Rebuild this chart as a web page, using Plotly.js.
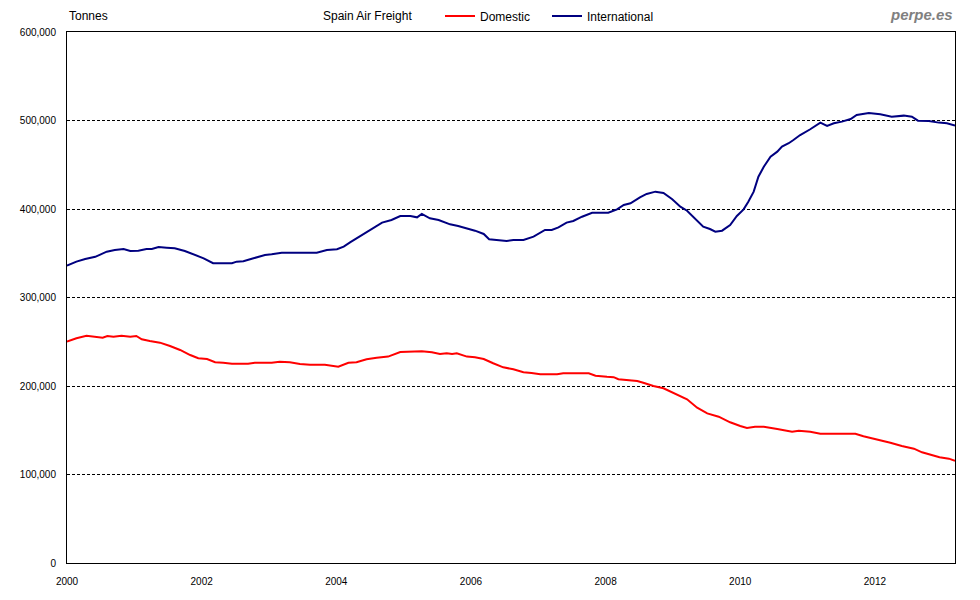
<!DOCTYPE html>
<html>
<head>
<meta charset="utf-8">
<script src="https://cdn.plot.ly/plotly-3.0.1.min.js"></script>
<style>html,body{margin:0;padding:0;background:#fff;}#chart{width:980px;height:600px;}</style>
</head>
<body>
<div id="chart"></div>
<script>
// Decimal-year positions and values (tonnes)
var domesticYears = [2000.00,2000.14,2000.29,2000.42,2000.53,2000.60,2000.69,2000.81,2000.94,2001.03,2001.11,2001.23,2001.38,2001.53,2001.68,2001.83,2001.95,2002.08,2002.20,2002.32,2002.45,2002.69,2002.79,2003.04,2003.16,2003.31,2003.46,2003.61,2003.83,2004.03,2004.18,2004.30,2004.45,2004.60,2004.77,2004.95,2005.12,2005.27,2005.42,2005.54,2005.64,2005.72,2005.79,2005.94,2006.06,2006.19,2006.33,2006.48,2006.63,2006.78,2006.90,2007.03,2007.28,2007.37,2007.75,2007.85,2008.02,2008.12,2008.19,2008.37,2008.47,2008.56,2008.71,2008.86,2009.01,2009.21,2009.36,2009.51,2009.68,2009.85,2010.00,2010.10,2010.22,2010.35,2010.55,2010.77,2010.87,2011.04,2011.19,2011.71,2011.83,2012.08,2012.23,2012.40,2012.58,2012.70,2012.82,2012.96,2013.10,2013.19];
var domesticValues = [250100,253900,256800,255700,254600,256500,255700,256800,255700,256500,252800,250900,249000,245200,240700,235000,231300,230500,226800,226300,225200,225200,226300,226300,227500,226800,224900,224100,224100,221800,226300,226800,230200,232000,233200,238400,238400,239200,238100,236200,237000,236200,237000,233200,232500,230500,225700,221100,218900,215500,214700,213200,213200,214400,214400,211700,210500,210000,207600,206000,205700,203700,200000,197400,192400,185000,175500,169100,165300,159000,154800,152600,154000,154000,151400,148400,149500,148400,146100,146100,143200,139000,135900,132200,129200,125100,122800,119400,117900,115600];

var internationalYears = [2000.00,2000.14,2000.27,2000.42,2000.59,2000.71,2000.84,2000.94,2001.06,2001.18,2001.26,2001.36,2001.48,2001.60,2001.75,2001.88,2002.03,2002.17,2002.45,2002.52,2002.62,2002.77,2002.94,2003.04,2003.19,2003.71,2003.86,2004.01,2004.11,2004.21,2004.35,2004.50,2004.68,2004.82,2004.95,2005.10,2005.20,2005.27,2005.39,2005.52,2005.69,2005.81,2005.94,2006.06,2006.19,2006.27,2006.38,2006.53,2006.63,2006.78,2006.93,2007.10,2007.20,2007.30,2007.42,2007.52,2007.65,2007.80,2008.04,2008.17,2008.27,2008.37,2008.51,2008.61,2008.74,2008.86,2008.99,2009.11,2009.21,2009.33,2009.45,2009.55,2009.63,2009.73,2009.85,2009.95,2010.05,2010.12,2010.20,2010.27,2010.35,2010.45,2010.55,2010.62,2010.72,2010.79,2010.89,2011.04,2011.19,2011.29,2011.39,2011.51,2011.64,2011.73,2011.91,2012.08,2012.25,2012.43,2012.55,2012.64,2012.80,2012.95,2013.07,2013.19];
var internationalValues = [336000,340500,343500,346000,351800,353700,354800,352600,352900,354800,354800,357000,356300,355600,352600,348800,344300,338700,338700,340500,340900,344300,348000,348800,350600,350600,353700,354500,357400,362500,369300,376300,384600,387600,392100,392100,390600,394400,389500,387600,382700,380800,378200,375500,371800,365800,365000,363900,365000,365000,368700,376300,376300,379300,384600,386500,391300,395800,395800,399600,404500,406500,413200,417000,419600,418100,411000,402600,398100,388700,380000,377400,374400,375500,381900,392100,399600,408300,419600,436500,447800,459100,464800,470500,474300,478000,483600,490100,497600,493800,496800,498700,501700,506200,508500,507000,504300,505500,504300,499800,499400,497600,496800,494200];

var xTickVals = [2000,2002,2004,2006,2008,2010,2012];
var yTickVals = [0,100000,200000,300000,400000,500000,600000];
var seriesNames = ['Domestic','International'];

var FONT = '"Liberation Sans", Arial, sans-serif';
var PLOT_L = 67, PLOT_W = 888, PLOT_T = 32, PLOT_H = 531;
function px(x) { return (x - PLOT_L) / PLOT_W; }
function py(y) { return (PLOT_T + PLOT_H - y) / PLOT_H; }

var traces = [
  {x: domesticYears, y: domesticValues, name: seriesNames[0], type: 'scatter', mode: 'lines',
   line: {color: '#FF0000', width: 2}},
  {x: internationalYears, y: internationalValues, name: seriesNames[1], type: 'scatter', mode: 'lines',
   line: {color: '#000080', width: 2}}
];

var layout = {
  width: 980, height: 600,
  margin: {l: 67, r: 25, t: 32, b: 37, autoexpand: false},
  paper_bgcolor: '#fff', plot_bgcolor: '#fff',
  font: {family: FONT, size: 10, color: '#000'},
  showlegend: true,
  legend: {orientation: 'h', x: px(440), xanchor: 'left', y: py(16), yanchor: 'middle',
           font: {family: FONT, size: 12, color: '#000'}, bgcolor: 'rgba(0,0,0,0)',
           entrywidth: 62, entrywidthmode: 'pixels', tracegroupgap: 0},
  xaxis: {range: [2000, 2013.19], tickvals: xTickVals, ticktext: xTickVals.map(String),
          showgrid: false, zeroline: false, showline: true, mirror: true, linecolor: '#000', linewidth: 1,
          ticks: '', ticklabelstandoff: 9, tickfont: {family: FONT, size: 10, color: '#000'}},
  yaxis: {range: [0, 600000], tickvals: yTickVals, tickformat: ',d',
          showgrid: true, gridcolor: '#000', gridwidth: 1, griddash: '3px,2px',
          zeroline: false, showline: true, mirror: true, linecolor: '#000', linewidth: 1,
          ticks: '', ticklabelstandoff: 8, tickfont: {family: FONT, size: 10, color: '#000'}},
  annotations: [
    {text: 'Tonnes', xref: 'paper', yref: 'paper', x: 0, y: py(16), xanchor: 'left', yanchor: 'middle',
     showarrow: false, font: {family: FONT, size: 12, color: '#000'}},
    {text: 'Spain Air Freight', xref: 'paper', yref: 'paper', x: px(321), y: py(16), xanchor: 'left', yanchor: 'middle',
     showarrow: false, font: {family: FONT, size: 12, color: '#000'}},
    {text: '<b><i>perpe.es</i></b>', xref: 'paper', yref: 'paper', x: px(955), y: py(14), xanchor: 'right', yanchor: 'middle',
     showarrow: false, font: {family: FONT, size: 15, color: '#808080'}}
  ]
};

Plotly.newPlot('chart', traces, layout, {displayModeBar: false, staticPlot: true});
</script>
</body>
</html>
